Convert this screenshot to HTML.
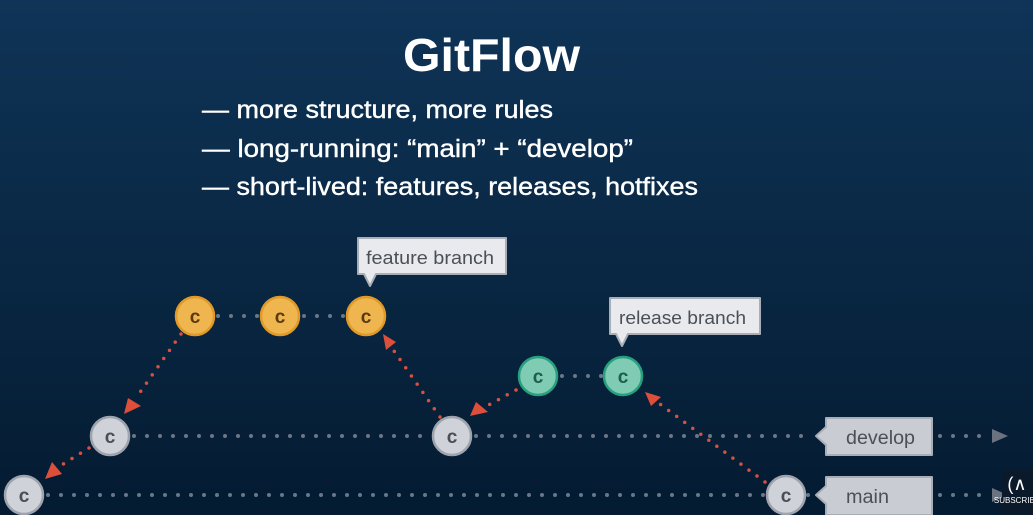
<!DOCTYPE html>
<html><head><meta charset="utf-8"><style>
html,body{margin:0;padding:0;width:1033px;height:515px;overflow:hidden;background:#062240}
svg{display:block}
</style></head><body>
<svg width="1033" height="515" viewBox="0 0 1033 515" xmlns="http://www.w3.org/2000/svg" font-family="Liberation Sans, sans-serif">
<defs>
<linearGradient id="bg" x1="0" y1="0" x2="0" y2="1">
<stop offset="0" stop-color="#0f3457"/><stop offset="1" stop-color="#041b31"/>
</linearGradient>
</defs>
<rect width="1033" height="515" fill="url(#bg)"/>
<text x="403" y="71" textLength="177" lengthAdjust="spacingAndGlyphs" font-size="46" font-weight="bold" fill="#fff">GitFlow</text>
<g font-size="25" fill="#fff" stroke="#fff" stroke-width="0.4">
<text x="202" y="118" textLength="351" lengthAdjust="spacingAndGlyphs">— more structure, more rules</text>
<text x="202" y="157" textLength="431" lengthAdjust="spacingAndGlyphs">— long-running: “main” + “develop”</text>
<text x="202" y="195" textLength="496" lengthAdjust="spacingAndGlyphs">— short-lived: features, releases, hotfixes</text>
</g>
<g stroke="#6b7787" stroke-width="4" stroke-linecap="round" stroke-dasharray="0 13" fill="none">
<line x1="218" y1="316" x2="260" y2="316"/>
<line x1="304" y1="316" x2="345" y2="316"/>
<line x1="562" y1="376" x2="602" y2="376"/>
<line x1="134" y1="436" x2="430" y2="436"/>
<line x1="476" y1="436" x2="812" y2="436"/>
<line x1="940" y1="436" x2="988" y2="436"/>
<line x1="48" y1="495" x2="764" y2="495"/>
<line x1="808" y1="495" x2="815" y2="495"/>
<line x1="940" y1="495" x2="988" y2="495"/>
</g>
<g stroke="#d9503f" stroke-width="3.5" stroke-linecap="round" stroke-dasharray="0 10" fill="none">
<line x1="181" y1="334" x2="136" y2="398"/>
<line x1="89" y1="448" x2="60" y2="466"/>
<line x1="440" y1="417" x2="392" y2="348"/>
<line x1="516" y1="390" x2="485" y2="407"/>
<line x1="765" y1="482" x2="660" y2="404"/>
</g>
<g fill="#dd4f3b">
<polygon points="124,414 128,398 141,406"/>
<polygon points="45,479 52,462 62,474"/>
<polygon points="383,334 396,342 386,350"/>
<polygon points="470,416 476,402 488,412"/>
<polygon points="645,392 661,397 651,406"/>
</g>
<polygon points="992,429 1008,436 992,443" fill="#6b7280"/>
<polygon points="992,488 1008,495 992,502" fill="#6b7280"/>
<g font-weight="bold" font-size="19" text-anchor="middle">
<g fill="#efb54f" stroke="#e09a28" stroke-width="2.5">
<circle cx="195" cy="316" r="19"/><circle cx="280" cy="316" r="19"/><circle cx="366" cy="316" r="19"/>
</g>
<g fill="#5a3b10"><text x="195" y="323">c</text><text x="280" y="323">c</text><text x="366" y="323">c</text></g>
<g fill="#7fcbb4" stroke="#27a07e" stroke-width="2.5">
<circle cx="538" cy="376" r="19"/><circle cx="623" cy="376" r="19"/>
</g>
<g fill="#1f5d4c"><text x="538" y="383">c</text><text x="623" y="383">c</text></g>
<g fill="#cfd2d8" stroke="#9ea3ad" stroke-width="2.5">
<circle cx="110" cy="436" r="19"/><circle cx="452" cy="436" r="19"/><circle cx="24" cy="495" r="19"/><circle cx="786" cy="495" r="19"/>
</g>
<g fill="#4a4e57"><text x="110" y="443">c</text><text x="452" y="443">c</text><text x="24" y="502">c</text><text x="786" y="502">c</text></g>
</g>
<g fill="#e8eaee" stroke="#a8adb6" stroke-width="2" stroke-linejoin="round">
<path d="M358,238 H506 V274 H376 L370,286 L364,274 H358 Z"/>
<path d="M610,298 H760 V334 H628 L622,346 L616,334 H610 Z"/>
<path d="M826,418 H932 V455 H826 V445 L816,436 L826,427 Z" fill="#c9ccd3"/>
<path d="M826,477 H932 V515 H826 V504 L816,495 L826,486 Z" fill="#c9ccd3"/>
</g>
<g fill="#4b4f58" font-size="18">
<text x="366" y="264" textLength="128" lengthAdjust="spacingAndGlyphs">feature branch</text>
<text x="619" y="324" textLength="127" lengthAdjust="spacingAndGlyphs">release branch</text>
<text x="846" y="444" font-size="19" textLength="69" lengthAdjust="spacingAndGlyphs">develop</text>
<text x="846" y="503" font-size="19" textLength="43" lengthAdjust="spacingAndGlyphs">main</text>
</g>
<rect x="1002" y="470" width="31" height="45" fill="#0b1a2a"/>
<text x="1017" y="490" fill="#fff" font-size="18" text-anchor="middle">(∧</text>
<text x="1017" y="503" fill="#fff" font-size="8" text-anchor="middle">SUBSCRIBE</text>
</svg>
</body></html>
